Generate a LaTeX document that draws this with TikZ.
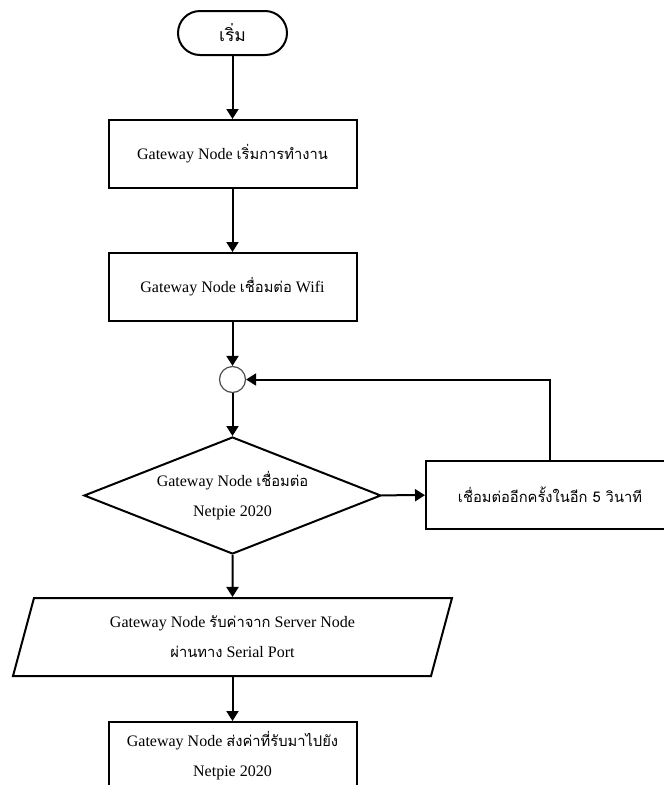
\documentclass[tikz,border=0pt]{standalone}
\usepackage{fontspec}
\setmainfont{Liberation Serif}
\newfontfamily\thaifont[Script=Thai,Scale=0.92]{Loma}
\newcommand{\thtxt}[1]{{\thaifont #1}}
\usetikzlibrary{shapes.geometric, arrows.meta, positioning}
\tikzset{
	startstop/.style={rectangle, rounded corners=22pt, minimum width=109pt, minimum height=44pt, draw=black, line width=2pt, align=center},
	process/.style  ={rectangle, minimum width=248pt, minimum height=68pt, draw=black, line width=2pt, align=center},
	io/.style       ={trapezium, trapezium left angle=63.4, trapezium right angle=116.6, trapezium stretches body, minimum width=439pt, minimum height=78pt, inner sep=0pt, draw=black, line width=2pt, align=center},
	decision/.style ={diamond, aspect=2.54, minimum width=297pt, minimum height=117pt, inner sep=0pt, draw=black, line width=2pt, align=center},
	joint/.style    ={circle, draw=black!70, line width=1.2pt, minimum size=26pt, inner sep=0pt},
	flowarrow/.style={-{Triangle[length=10pt, width=12pt]}, line width=2pt},
}

\begin{document}
\begin{tikzpicture}[x=1pt, y=-1pt, font=\fontsize{16}{30}\selectfont]
	\useasboundingbox (0,0) rectangle (664,785);
	\clip (0,0) rectangle (664,785);
	\fill[white] (0,0) rectangle (664,785);
	% main column
	\node[startstop, font=\fontsize{19}{22}\selectfont] (start) at (232.5,33) {\thtxt{เริ่ม}};
	\node[process] (init) at (232.5,154) {Gateway Node \thtxt{เริ่มการทำงาน}};
	\node[process] (wifi) at (232.5,287) {Gateway Node \thtxt{เชื่อมต่อ} Wifi};
	\node[joint] (merge) at (232.5,379.5) {};
	\node[decision] (conn) at (232.5,495.5) {Gateway Node \thtxt{เชื่อมต่อ}\\Netpie 2020};
	\node[process] (retry) at (550,495) {\thtxt{เชื่อมต่ออีกครั้งในอีก 5 วินาที}};
	\node[io] (recv) at (232.5,637) {Gateway Node \thtxt{รับค่าจาก} Server Node\\\thtxt{ผ่านทาง} Serial Port};
	\node[process] (send) at (232.5,756) {Gateway Node \thtxt{ส่งค่าที่รับมาไปยัง}\\Netpie 2020};
	% connectors
	\draw[flowarrow] (start) -- (init);
	\draw[flowarrow] (init) -- (wifi);
	\draw[flowarrow] (wifi) -- (merge);
	\draw[flowarrow] (merge) -- (conn);
	\draw[flowarrow] (conn) -- (retry);
	\draw[flowarrow] (retry.north) |- (merge.east);
	\draw[flowarrow] (conn) -- (recv);
	\draw[flowarrow] (recv) -- (send);
\end{tikzpicture}
\end{document}
